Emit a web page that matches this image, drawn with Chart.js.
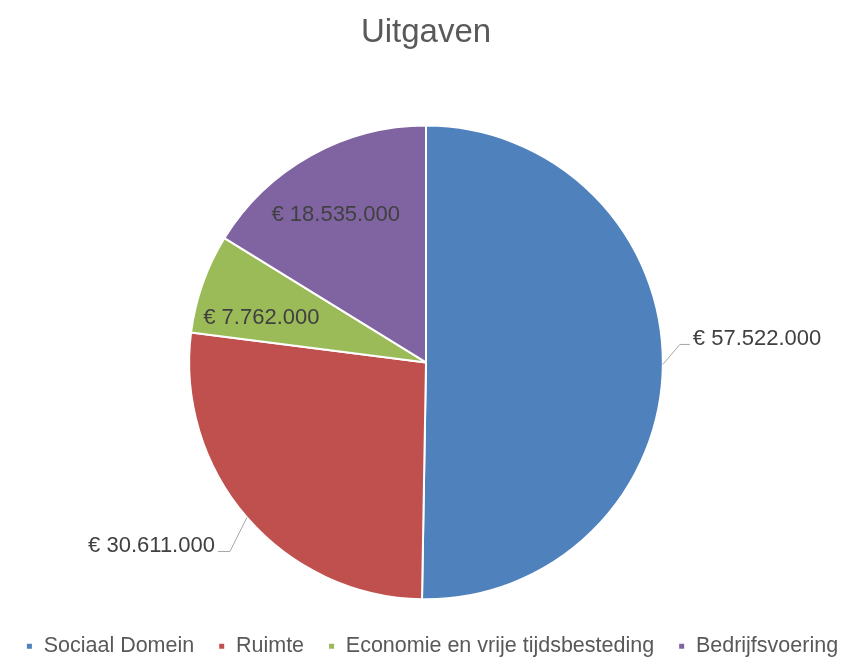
<!DOCTYPE html>
<html>
<head>
<meta charset="utf-8">
<script src="https://cdn.jsdelivr.net/npm/chart.js@4/dist/chart.umd.min.js"></script>
<style>
  html, body { margin: 0; padding: 0; background: #fff; }
  #wrap { width: 864px; height: 657px; }
</style>
</head>
<body>
<div id="wrap"><canvas id="pieChart"></canvas></div>
<script>
const posten = ['Sociaal Domein', 'Ruimte', 'Economie en vrije tijdsbesteding', 'Bedrijfsvoering'];
const bedragen = [57522000, 30611000, 7762000, 18535000];
const kleuren = ['#4F81BD', '#C0504D', '#9BBB59', '#8064A2'];

function euro(v) {
  return '€ ' + v.toString().replace(/\B(?=(\d{3})+(?!\d))/g, '.');
}

// labels: buiten met lijntje of binnen in de taart
const labelPlugin = {
  id: 'bedragLabels',
  afterDatasetsDraw(chart, args, opts) {
    const ctx = chart.ctx;
    const arcs = chart.getDatasetMeta(0).data;
    ctx.save();
    ctx.font = opts.font;
    ctx.fillStyle = opts.color;
    arcs.forEach((arc, i) => {
      const { x, y, startAngle, endAngle, outerRadius } = arc.getProps(['x', 'y', 'startAngle', 'endAngle', 'outerRadius'], true);
      const tekst = euro(bedragen[i]);
      const plek = opts.plekken[i];
      if (plek.type === 'binnen') {
        const hoek = startAngle + (endAngle - startAngle) * plek.t;
        const r = outerRadius * plek.r;
        ctx.textAlign = 'center';
        ctx.textBaseline = 'middle';
        ctx.fillText(tekst, x + Math.cos(hoek) * r, y + Math.sin(hoek) * r);
      } else {
        const mid = (startAngle + endAngle) / 2;
        const ex = x + Math.cos(mid) * outerRadius;
        const ey = y + Math.sin(mid) * outerRadius;
        const kx = ex + plek.dx;
        const ky = ey + plek.dy;
        const lx = kx + plek.lijn;
        ctx.strokeStyle = '#A6A6A6';
        ctx.lineWidth = 1;
        ctx.beginPath();
        ctx.moveTo(ex, ey);
        ctx.lineTo(kx, ky);
        ctx.lineTo(lx, ky);
        ctx.stroke();
        ctx.textBaseline = 'middle';
        ctx.textAlign = plek.lijn > 0 ? 'left' : 'right';
        ctx.fillText(tekst, lx + (plek.lijn > 0 ? 3 : -3), ky - 6);
      }
    });
    ctx.restore();
  }
};

const ctx = document.getElementById('pieChart');

new Chart(ctx, {
  type: 'pie',
  data: {
    labels: posten,
    datasets: [{
      data: bedragen,
      backgroundColor: kleuren,
      borderColor: '#FFFFFF',
      borderWidth: 2
    }]
  },
  plugins: [labelPlugin],
  options: {
    responsive: true,
    maintainAspectRatio: false,
    animation: false,
    layout: { padding: { bottom: -10 } },
    plugins: {
      title: {
        display: true,
        fullSize: false,
        text: 'Uitgaven',
        color: '#595959',
        font: { family: 'Liberation Sans', size: 33, weight: 'normal' },
        padding: { top: 13, bottom: 72 }
      },
      // lege strook rechts zodat de taart iets naar links schuift
      subtitle: {
        display: true,
        position: 'right',
        text: '',
        font: { size: 10 },
        padding: 0
      },
      legend: {
        position: 'bottom',
        title: {
          display: true,
          text: '',
          font: { size: 1 },
          padding: { top: 0, bottom: 10 }
        },
        labels: {
          color: '#595959',
          font: { family: 'Liberation Sans', size: 21.5 },
          boxWidth: 7,
          boxHeight: 7,
          padding: 24
        }
      },
      tooltip: { enabled: false },
      bedragLabels: {
        font: '22px "Liberation Sans"',
        color: '#404040',
        plekken: [
          { type: 'buiten', dx: 17, dy: -20, lijn: 10 },
          { type: 'buiten', dx: -17, dy: 34, lijn: -12 },
          { type: 'binnen', r: 0.72, t: 0.32 },
          { type: 'binnen', r: 0.73, t: 0.46 }
        ]
      }
    }
  }
});
</script>
</body>
</html>
